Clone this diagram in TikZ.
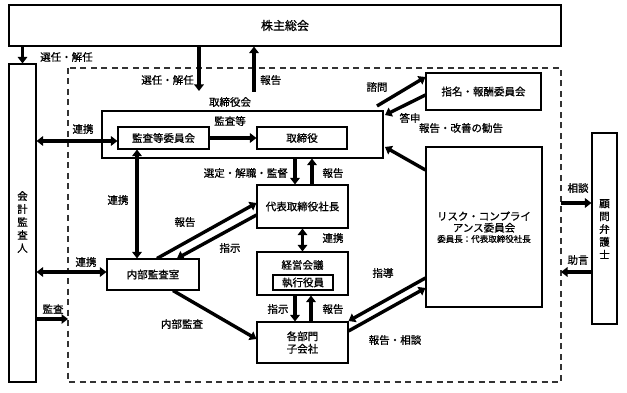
\documentclass[tikz,border=0pt]{standalone}
\usepackage{fontspec}
\setmainfont{Noto Sans CJK JP}[FakeBold=0.9]
\usetikzlibrary{arrows.meta}
\begin{document}
\begin{tikzpicture}[x=1pt,y=-1pt,
  box/.style={draw,line width=1.1pt,inner sep=0pt,align=center,font=\fontsize{10.5}{12.5}\selectfont},
  lbl/.style={inner sep=0pt,font=\fontsize{10.5}{12}\selectfont},
  arr/.style={line width=3.4pt,-{Triangle[length=6.5pt,width=9.5pt]}},
  darr/.style={line width=3.4pt,{Triangle[length=6.5pt,width=9.5pt]}-{Triangle[length=6.5pt,width=9.5pt]}}]
\useasboundingbox (0,0) rectangle (627,393);
% dashed frame
\draw[line width=1.1pt,dash pattern=on 6pt off 4.5pt,draw=black!80] (68,68) rectangle (561,382);
% boxes
\node[box,minimum width=552,minimum height=41,font=\fontsize{12}{14}\selectfont] (top) at (285,25.5) {株主総会};
\node[box,minimum width=27,minimum height=318] (audit) at (22.5,223) {};
\node[lbl,align=center,font=\fontsize{10.5}{13}\selectfont] at (22.5,222) {会\\計\\監\\査\\人};
\node[box,minimum width=281,minimum height=47] (board) at (242.5,134.5) {};
\node[box,minimum width=91,minimum height=22] (kansa) at (163.5,138) {監査等委員会};
\node[box,minimum width=90,minimum height=22] (tori) at (302,138) {取締役};
\node[box,minimum width=115,minimum height=37] (shimei) at (483.5,91.5) {指名・報酬委員会};
\node[box,minimum width=116,minimum height=160] (risk) at (484,227) {};
\node[lbl,align=center,font=\fontsize{10.5}{11.5}\selectfont] at (484,222) {リスク・コンプライ\\アンス委員会};
\node[lbl,font=\fontsize{8.5}{10}\selectfont] at (484,239) {委員長：代表取締役社長};
\node[box,minimum width=91,minimum height=43] (daihyo) at (302.5,206.5) {代表取締役社長};
\node[box,minimum width=91,minimum height=43] (keiei) at (302.5,273.5) {};
\node[lbl] at (302.5,265) {経営会議};
\node[box,minimum width=60,minimum height=15] (shikko) at (303,282.5) {執行役員};
\node[box,minimum width=91,minimum height=41,font=\fontsize{10.5}{12.5}\selectfont] (bumon) at (302.5,342.5) {各部門\\子会社};
\node[box,minimum width=92,minimum height=31] (naibu) at (153,274.5) {内部監査室};
\node[box,minimum width=25,minimum height=191] (komon) at (604.5,228.5) {};
\node[lbl,align=center,font=\fontsize{10.5}{12.8}\selectfont] at (604.5,229) {顧\\問\\弁\\護\\士};
% free ends
\coordinate (selTip) at (199,91);
\coordinate (repTail) at (254,92);
\coordinate (shimonA) at (377,106);
\coordinate (toshinB) at (385,115);
\coordinate (riskB) at (385,147);
\coordinate (dashL) at (68,319);
\coordinate (dashR1) at (561,203);
\coordinate (dashR2) at (561,272);
% arrows
\draw[arr] (top.south -| audit.north) -- (audit.north);
\draw[arr] (top.south -| selTip) -- (selTip);
\draw[arr] (repTail) -- (top.south -| repTail);
\draw[arr] (shimonA) -- (shimei.west |- 0,77);
\draw[arr] (shimei.west |- 0,95) -- (toshinB);
\draw[arr] (risk.west |- 0,170) -- (riskB);
\draw[arr] (kansa.east) -- (tori.west);
\draw[darr] (audit.east |- 0,141) -- (kansa.west |- 0,141);
\draw[darr] (kansa.south -| 137,0) -- (naibu.north -| 137,0);
\draw[arr] (board.south -| 295,0) -- (daihyo.north -| 295,0);
\draw[arr] (daihyo.north -| 312,0) -- (board.south -| 312,0);
\draw[arr] (naibu.north -| 157,0) -- (daihyo.west |- 0,203);
\draw[arr] (daihyo.west |- 0,215) -- (naibu.north -| 177,0);
\draw[darr] (daihyo.south) -- (keiei.north);
\draw[arr] (keiei.south -| 295,0) -- (bumon.north -| 295,0);
\draw[arr] (bumon.north -| 311,0) -- (keiei.south -| 311,0);
\draw[arr] (naibu.south -| 173,0) -- (bumon.west |- 0,339);
\draw[arr] (risk.west |- 0,278) -- (bumon.east |- 0,321);
\draw[arr] (bumon.east |- 0,331) -- (risk.west |- 0,288);
\draw[darr] (audit.east |- 0,272) -- (naibu.west |- 0,272);
\draw[arr] (audit.east |- 0,319) -- (dashL);
\draw[arr] (dashR1) -- (komon.west |- dashR1);
\draw[arr] (komon.west |- dashR2) -- (dashR2);
% labels
\node[lbl,anchor=west] at (40,57) {選任・解任};
\node[lbl,anchor=east] at (194,80) {選任・解任};
\node[lbl,anchor=west] at (260,80) {報告};
\node[lbl] at (230,102) {取締役会};
\node[lbl] at (230,121) {監査等};
\node[lbl] at (377,87) {諮問};
\node[lbl] at (410,118) {答申};
\node[lbl] at (461,128) {報告・改善の勧告};
\node[lbl] at (83,129) {連携};
\node[lbl] at (118,200) {連携};
\node[lbl,anchor=east] at (288,173) {選定・解職・監督};
\node[lbl] at (333,173) {報告};
\node[lbl] at (185,222) {報告};
\node[lbl] at (230,248) {指示};
\node[lbl] at (333,238) {連携};
\node[lbl] at (278,309) {指示};
\node[lbl] at (333,309) {報告};
\node[lbl] at (86,262) {連携};
\node[lbl] at (53,309) {監査};
\node[lbl] at (182,324) {内部監査};
\node[lbl] at (383,273) {指導};
\node[lbl] at (395,340) {報告・相談};
\node[lbl] at (578,188) {相談};
\node[lbl] at (578,260) {助言};
\end{tikzpicture}
\end{document}
